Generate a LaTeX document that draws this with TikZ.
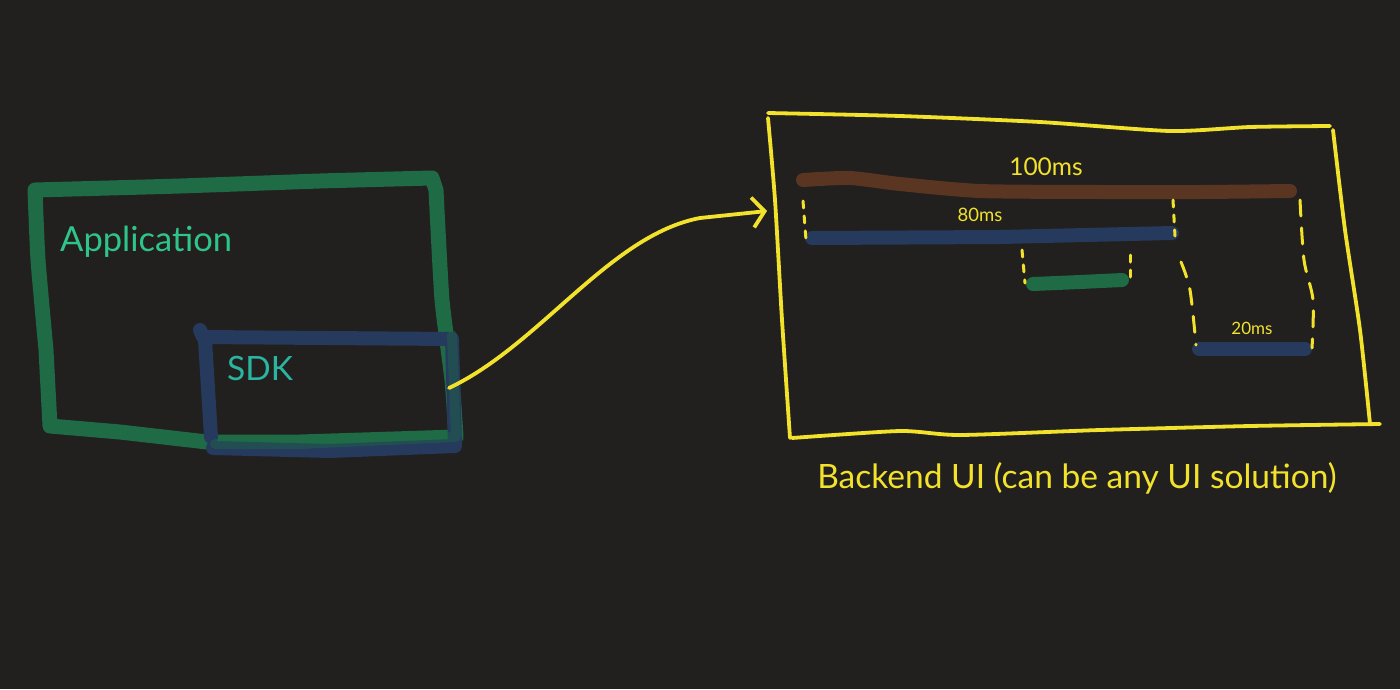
\documentclass[tikz,border=0pt]{standalone}
\usepackage{fontspec}
\setmainfont{Lato}
\usetikzlibrary{arrows.meta}
\definecolor{bg}{HTML}{21201E}
\definecolor{appgreen}{HTML}{1E6B45}
\definecolor{sdkblue}{HTML}{253A5C}
\definecolor{brownbar}{HTML}{5A3522}
\definecolor{ylw}{HTML}{F2E22C}
\definecolor{apptext}{HTML}{2EC48A}
\definecolor{sdktext}{HTML}{2BB5A0}
\tikzset{
  appstroke/.style={draw=appgreen,line width=15pt,line cap=round,line join=round},
  sdkstroke/.style={draw=sdkblue,line width=14pt,line cap=round,line join=round},
  ybox/.style={draw=ylw,line width=3.8pt,line cap=round,line join=round},
  bar/.style={line width=14pt,line cap=round},
  ydash/.style={draw=ylw,line width=3pt,line cap=round,dash pattern=on 7pt off 8pt},
  ydashlong/.style={draw=ylw,line width=3pt,line cap=round,dash pattern=on 16pt off 12pt},
  lbl/.style={inner sep=0pt,anchor=center}
}
\begin{document}
\begin{tikzpicture}[x=1pt,y=-1pt]
\fill[bg] (0,0) rectangle (1400,689);
\useasboundingbox (0,0) rectangle (1400,689);

% Application box
\draw[appstroke] plot[smooth,tension=0.3] coordinates {(35,190) (180,186) (320,181) (432,178)}
  -- plot[smooth,tension=0.3] coordinates {(436,190) (442,300) (452,380) (456,437)}
  -- (300,442) -- (207,442) -- plot[smooth,tension=0.3] coordinates {(120,432) (50,426)}
  -- plot[smooth,tension=0.3] coordinates {(46,350) (38,260) (35,190)};

% SDK box
\draw[sdkstroke] (451,339) -- (203,337) -- (200,330)
  (205,340) -- (211,437) (213,448) -- (330,451) -- (455,446) -- (452,339);
% overlap tint
\draw[appstroke,line width=10pt,opacity=0.4] (452,335) -- (456,437) -- (300,444) -- (215,444);

% Texts
\node[lbl,anchor=west,text=apptext,font=\fontsize{34.5}{40}\selectfont] (app) at (60,242) {Application};
\node[lbl,anchor=west,text=sdktext,font=\fontsize{33.5}{40}\selectfont] (sdk) at (227,368) {SDK};

% Backend box
\draw[ybox] plot[smooth,tension=0.4] coordinates {(768,113) (900,116) (1040,122) (1170,131) (1250,127) (1330,126)};
\draw[ybox] plot[smooth,tension=0.4] coordinates {(768,118) (775,200) (782,320) (790,438)};
\draw[ybox] plot[smooth,tension=0.4] coordinates {(1333,130) (1345,230) (1360,330) (1370,424)};
\draw[ybox] plot[smooth,tension=0.4] coordinates {(792,438) (900,431) (960,435) (1100,430) (1250,426) (1380,424)};

\coordinate (srcpt) at (449,388);
\coordinate (dstpt) at (767,211);
\draw[draw=ylw,line width=3.8pt,line cap=round,-{Straight Barb[length=12pt,width=30pt,line width=3.8pt]}]
  (srcpt) .. controls (540,345) and (610,235) .. (700,218) -- (dstpt);

\node[lbl,text=ylw,font=\fontsize{33.5}{40}\selectfont] (backend) at (1077,478) {Backend UI (can be any UI solution)};

% bars
\draw[bar,brownbar] plot[smooth,tension=0.4] coordinates {(803,180) (850,178) (900,184) (980,191) (1100,192) (1200,192) (1290,191)};
\draw[bar,sdkblue] (812,238) -- (1000,237) -- (1172,233);
\draw[bar,appgreen] (1033,284) -- (1080,282) -- (1122,280);
\draw[bar,sdkblue] (1199,349) -- (1305,349);

\node[lbl,text=ylw,font=\fontsize{24.5}{29}\selectfont] (l100) at (1046,167) {100ms};
\node[lbl,text=ylw,font=\fontsize{18.5}{22}\selectfont] (l80) at (980,215) {80ms};
\node[lbl,text=ylw,font=\fontsize{17}{20}\selectfont] (l20) at (1252,328) {20ms};

% dashed guides
\draw[ydash] (803,201) -- (806,240);
\draw[ydash] (1173,200) -- (1175,236);
\draw[ydash] (1022,250) -- (1025,283);
\draw[ydash] (1130,255) -- (1130,283);
\draw[ydashlong] plot[smooth,tension=0.5] coordinates {(1181,262) (1190,290) (1196,345)};
\draw[ydashlong] plot[smooth,tension=0.5] coordinates {(1300,200) (1304,260) (1313,300) (1312,348)};
\end{tikzpicture}
\end{document}
